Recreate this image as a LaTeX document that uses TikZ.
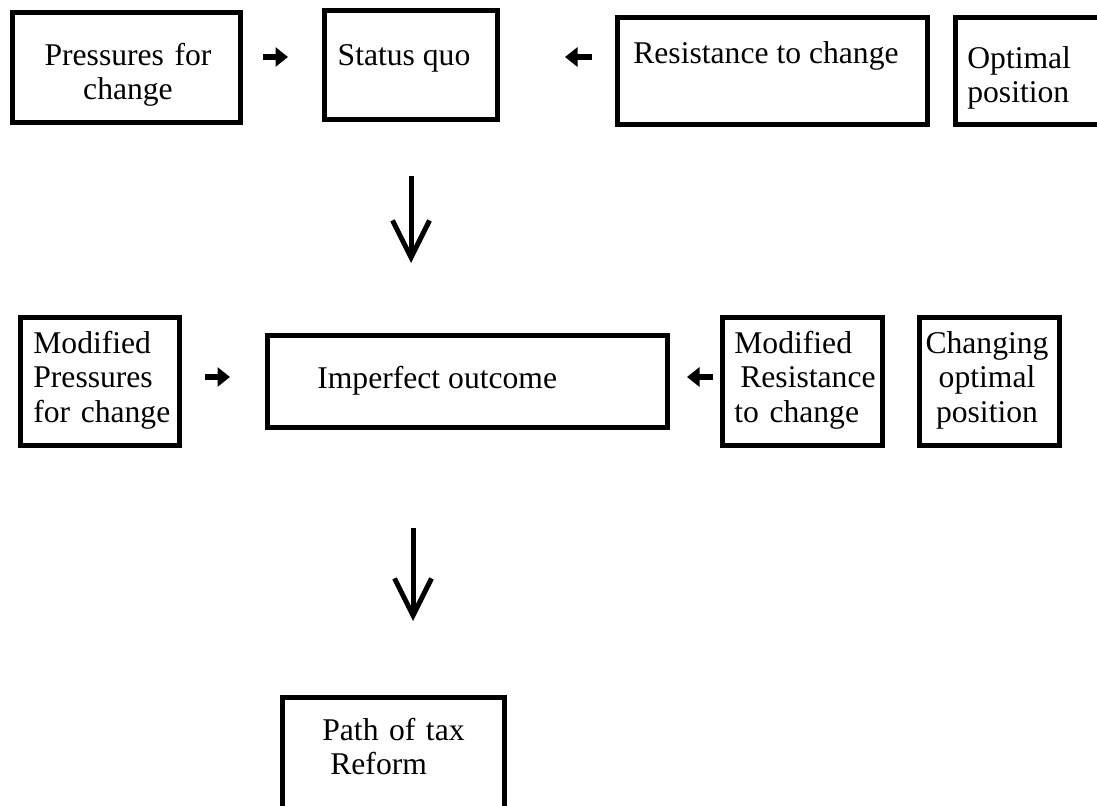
\documentclass[tikz,border=0pt]{standalone}
\usepackage{fontspec}
\setmainfont{Liberation Serif}
\usetikzlibrary{arrows.meta}
\tikzset{
  box/.style={draw,line width=2.85pt,inner sep=0pt},
  boxtext/.style={font=\fontsize{18}{19.9}\selectfont,inner sep=0pt},
  heavyarrow/.style={line width=3.2pt,-{Triangle[length=0.25cm,width=0.38cm]}},
  downarrow/.style={line width=2.85pt,-{Straight Barb[length=0.74cm,width=0.74cm]}}
}

\begin{document}
\begin{tikzpicture}[x=0.02cm,y=-0.02cm]
	\useasboundingbox (0,0) rectangle (1097,805);
	\clip (0,0) rectangle (1097,805);
	%top row
	\node[box,minimum width=4.56cm,minimum height=2.2cm] (pressures) at (126.5,67.5) {};
	\node[box,minimum width=3.46cm,minimum height=2.18cm] (statusquo) at (411,65) {};
	\node[box,minimum width=6.2cm,minimum height=2.14cm] (resistance) at (772.5,71) {};
	\node[box,minimum width=3.14cm,minimum height=2.14cm] (optimal) at (1034,71) {};
	\node[boxtext,text width=4.4cm,align=center,anchor=base] (pressurestext) at (128,65) {Pressures for\\change};
	\node[boxtext,anchor=base] (statusquotext) at (404,65) {Status quo};
	\node[boxtext,anchor=base west] (resistancetext) at (633,63) {Resistance to change};
	\node[boxtext,text width=2.8cm,align=left,anchor=base west] (optimaltext) at (967,68) {Optimal\\position};
	%middle row
	\node[box,minimum width=3.18cm,minimum height=2.56cm] (modpressures) at (100,381.5) {};
	\node[box,minimum width=8cm,minimum height=1.84cm] (outcome) at (467.5,381.5) {};
	\node[box,minimum width=3.2cm,minimum height=2.56cm] (modresistance) at (802.5,381.5) {};
	\node[box,minimum width=2.8cm,minimum height=2.56cm] (changing) at (989.5,381.5) {};
	\node[boxtext,text width=3cm,align=left,anchor=base west] (modpressurestext) at (33,353) {Modified\\Pressures\\for change};
	\node[boxtext,anchor=base west] (outcometext) at (317,388) {Imperfect outcome};
	\node[boxtext,text width=3cm,align=left,anchor=base west] (modresistancetext) at (734,353) {Modified\\\hspace*{0.12cm}Resistance\\to change};
	\node[boxtext,text width=2.7cm,align=center,anchor=base] (changingtext) at (987,353) {Changing\\optimal\\position};
	%bottom
	\node[box,minimum width=4.44cm,minimum height=2.6cm] (reform) at (393.5,762.5) {};
	\node[boxtext,text width=4cm,align=left,anchor=base west] (reformtext) at (322,740) {Path of tax\\\hspace*{0.16cm}Reform};
	%small arrows
	\coordinate (a1s) at (263,57);
	\coordinate (a1e) at (288,57);
	\coordinate (a2s) at (592,57);
	\coordinate (a2e) at (565,57);
	\coordinate (a3s) at (205,377);
	\coordinate (a3e) at (230,377);
	\coordinate (a4s) at (713,377);
	\coordinate (a4e) at (687,377);
	\draw[heavyarrow] (a1s)--(a1e);
	\draw[heavyarrow] (a2s)--(a2e);
	\draw[heavyarrow] (a3s)--(a3e);
	\draw[heavyarrow] (a4s)--(a4e);
	%down arrows
	\coordinate (d1s) at (411,176);
	\coordinate (d1e) at (411,263);
	\coordinate (d2s) at (413,528);
	\coordinate (d2e) at (413,621);
	\draw[downarrow] (d1s)--(d1e);
	\draw[downarrow] (d2s)--(d2e);
\end{tikzpicture}
\end{document}
